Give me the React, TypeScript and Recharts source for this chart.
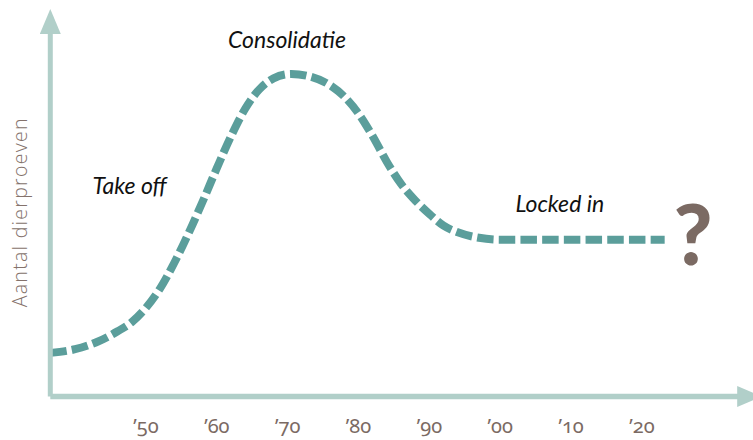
import { Label, Line, LineChart, ReferenceDot, XAxis, YAxis } from "recharts";

// jaar / aantal (relatieve schaal 0-100)
const years = [
  1936.5, 1940, 1943, 1946, 1948, 1950, 1952, 1954, 1956, 1958, 1960, 1962, 1964, 1966, 1968, 1970.5,
  1973, 1976, 1978, 1980, 1982, 1984, 1986, 1988, 1990, 1992, 1994, 1997, 2000, 2023.2,
];
const values = [
  11.9, 12.9, 14.8, 17.8, 20.3, 24.2, 29.5, 36.5, 44.5, 53.2, 62.3, 71.0, 78.5, 83.8, 86.8, 88.0,
  87.4, 84.9, 81.8, 77.2, 71.0, 64.0, 58.0, 53.5, 49.8, 46.6, 44.8, 43.3, 42.8, 42.8,
];
const decadeTicks = [1950, 1960, 1970, 1980, 1990, 2000, 2010, 2020];

const phaseLabels = ["Take off", "Consolidatie", "Locked in"];
const phaseYears = [1947.7, 1969.9, 2008.4];
const phaseValues = [55.3, 95.1, 50.3];

const questionYear = 2027.2;
const questionValue = 35.9;

const AXIS = "#b1cfc9";
const CURVE = "#5b9e9b";
const BROWN = "#7b6a63";

const data = years.map((year, i) => ({ year, value: values[i] }));

function DecadeTick(props: any) {
  const v = String(props.payload.value).slice(2);
  return (
    <text
      x={props.x}
      y={props.y}
      textAnchor="middle"
      fill={BROWN}
      fontSize={20}
      fontFamily="Noto Sans"
      style={{ fontFeatureSettings: "'onum'" }}
    >
      {"\u2019" + v}
    </text>
  );
}

function YTitle(props: any) {
  const { x, y, height } = props.viewBox;
  const cx = x + 19;
  const cy = y + height / 2 - 1;
  return (
    <text
      x={cx}
      y={cy}
      transform={`rotate(-90 ${cx} ${cy})`}
      textAnchor="middle"
      dominantBaseline="central"
      fill="#84726b"
      fontSize={19.5}
      fontFamily="Open Sans"
      fontWeight={300}
      letterSpacing={1.3}
    >
      Aantal dierproeven
    </text>
  );
}

export default function App() {
  return (
    <div style={{ position: "absolute", left: 0, top: 0, width: 753, height: 440, background: "#fff" }}>
      <LineChart width={753} height={440} data={data} margin={{ top: 30, right: 11.8, bottom: 0, left: 0 }}>
        <defs>
          <marker
            id="axisArrow"
            viewBox="0 0 25 21"
            markerUnits="userSpaceOnUse"
            markerWidth={25}
            markerHeight={21}
            refX={4}
            refY={10.5}
            orient="auto-start-reverse"
          >
            <path d="M0,0 L25,10.5 L0,21 Z" fill={AXIS} />
          </marker>
        </defs>
        <XAxis
          type="number"
          dataKey="year"
          domain={[1936.5, 2034]}
          ticks={decadeTicks}
          height={43.5}
          tickSize={0}
          tickMargin={36.5}
          tickLine={false}
          tick={<DecadeTick />}
          axisLine={{ stroke: AXIS, strokeWidth: 5.5, markerEnd: "url(#axisArrow)" }}
        />
        <YAxis
          type="number"
          domain={[0, 100]}
          width={50.3}
          tick={false}
          tickLine={false}
          axisLine={{ stroke: AXIS, strokeWidth: 5, markerStart: "url(#axisArrow)" }}
        >
          <Label content={<YTitle />} />
        </YAxis>
        <Line
          type="monotone"
          dataKey="value"
          stroke={CURVE}
          strokeWidth={8}
          strokeDasharray="16.5 5.2"
          dot={false}
          activeDot={false}
          isAnimationActive={false}
        />
        {phaseLabels.map((text, i) => (
          <ReferenceDot
            key={text}
            x={phaseYears[i]}
            y={phaseValues[i]}
            r={0}
            shape={(p: any) => (
              <text
                x={p.cx}
                y={p.cy}
                textAnchor="middle"
                fill="#111"
                fontSize={23}
                fontStyle="italic"
                fontFamily="Lato"
              >
                {text}
              </text>
            )}
          />
        ))}
        <ReferenceDot
          x={questionYear}
          y={questionValue}
          r={0}
          shape={(p: any) => (
            <text
              x={p.cx}
              y={p.cy}
              textAnchor="middle"
              fill={BROWN}
              fontSize={84}
              fontWeight={900}
              fontFamily="Lato"
            >
              ?
            </text>
          )}
        />
      </LineChart>
    </div>
  );
}
